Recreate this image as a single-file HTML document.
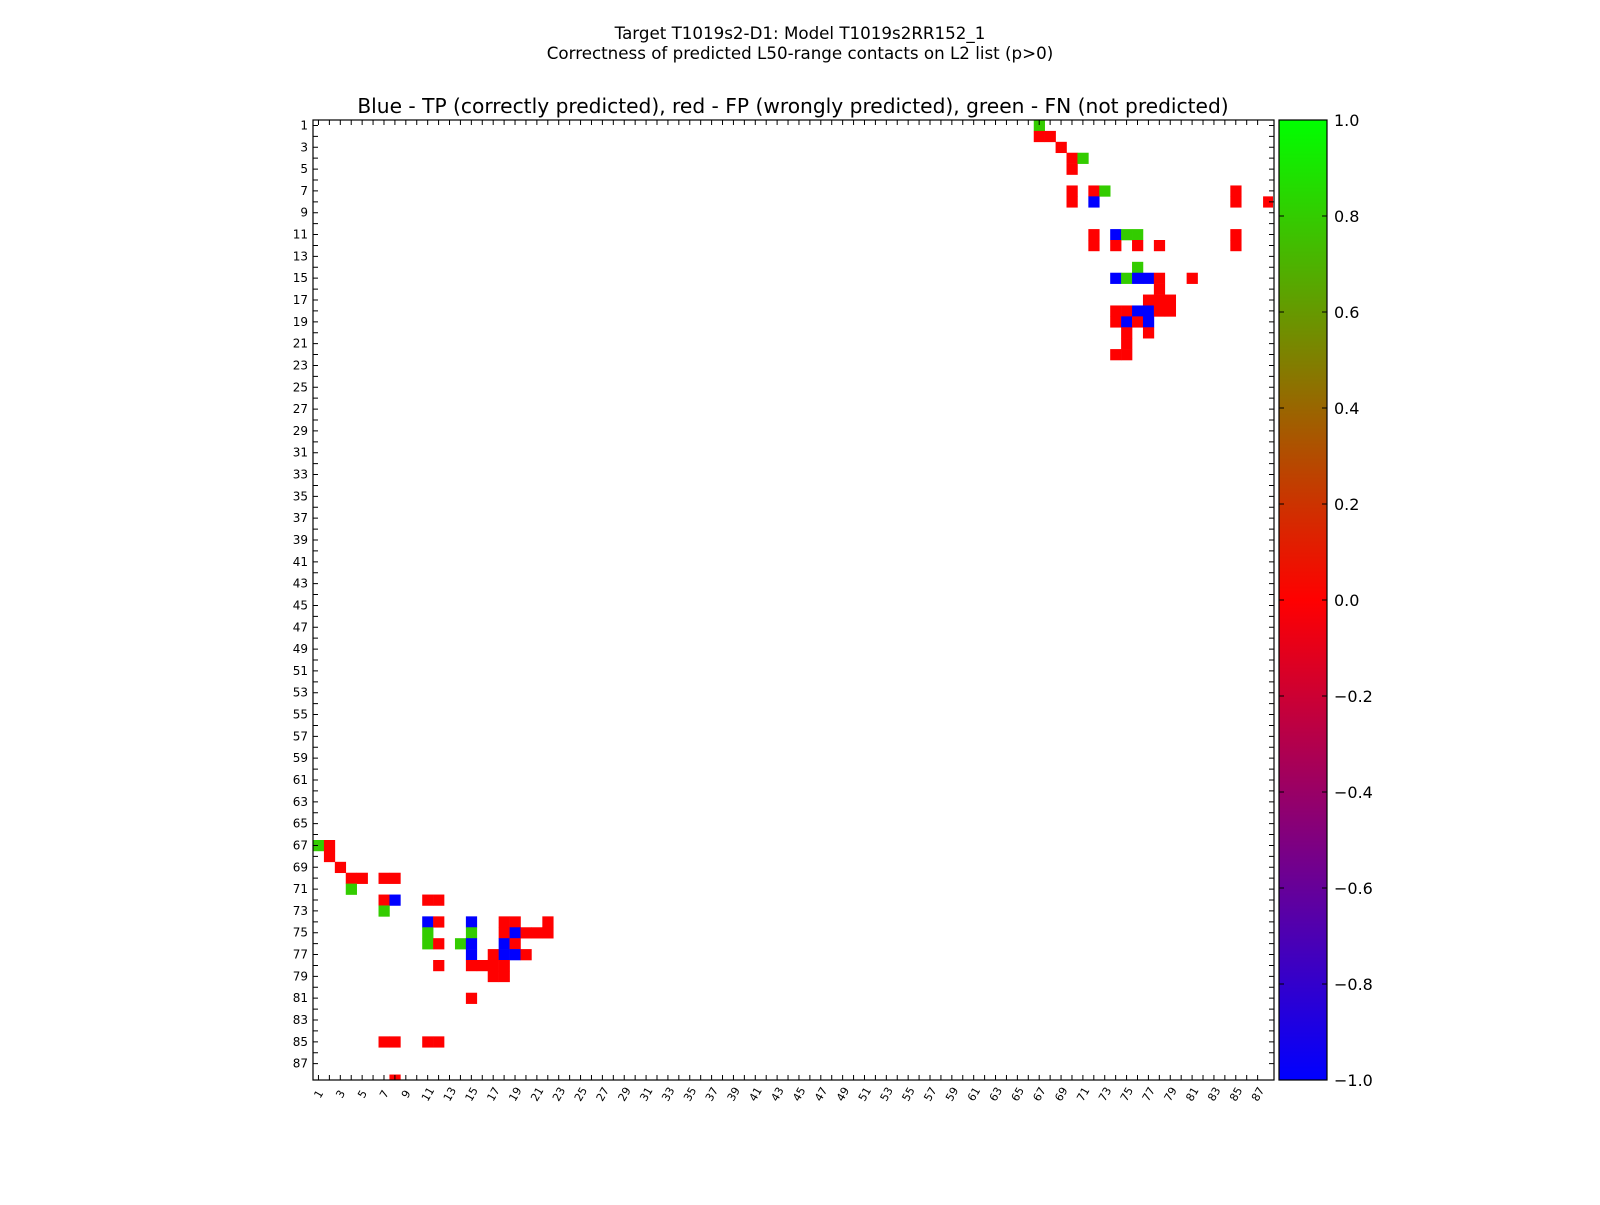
<!DOCTYPE html>
<html><head><meta charset="utf-8"><style>
body{margin:0;background:#fff;}
svg text{font-family:"DejaVu Sans","Liberation Sans",sans-serif;fill:#000;}
</style></head><body>
<svg id="chart" width="1600" height="1200" viewBox="0 0 1600 1200" xmlns="http://www.w3.org/2000/svg">
<rect width="1600" height="1200" fill="#fff"/>
<text x="800" y="39" font-size="16.7" text-anchor="middle">Target T1019s2-D1: Model T1019s2RR152_1</text>
<text x="800" y="59" font-size="16.7" text-anchor="middle">Correctness of predicted L50-range contacts on L2 list (p&gt;0)</text>
<text x="793" y="113" font-size="20.2" text-anchor="middle">Blue - TP (correctly predicted), red - FP (wrongly predicted), green - FN (not predicted)</text>
<defs>
<linearGradient id="cbgrad" x1="0" y1="0" x2="0" y2="1">
<stop offset="0" stop-color="#00ff00"/><stop offset="0.5" stop-color="#ff0000"/><stop offset="1" stop-color="#0000ff"/>
</linearGradient>
</defs>
<g id="cells"></g>
<g id="axes"></g>
<rect x="1279" y="120" width="48" height="960" fill="url(#cbgrad)" stroke="#000" stroke-width="1.2"/>
<g id="cbticks"></g>
</svg>
<script>
// cell data (lower triangle; mirrored to upper)
const rows = [67,67,68,69,70,70,70,70,71,72,72,72,72,73,74,74,74,74,74,74,75,75,75,75,75,75,75,76,76,76,76,76,76,77,77,77,77,77,78,78,78,78,78,79,79,81,85,85,85,85,88];
const cols = [1,2,2,3,4,5,7,8,4,7,8,11,12,7,11,12,15,18,19,22,11,15,18,19,20,21,22,11,12,14,15,18,19,15,17,18,19,20,12,15,16,17,18,17,18,15,7,8,11,12,8];
const vals = [0.8,0,0,0,0,0,0,0,0.8,0,-1,0,0,0.8,-1,0,-1,0,0,0,0.8,0.8,0,-1,0,0,0,0.8,0,0.8,-1,-1,0,-1,0,-1,-1,0,0,0,0,0,0,0,0,0,0,0,0,0,0];
const cbTicks = [1.0,0.8,0.6,0.4,0.2,0.0,-0.2,-0.4,-0.6,-0.8,-1.0];
const N = 88;
const L=313,T=120,W=961,H=960;
const NS='http://www.w3.org/2000/svg';
const sx = c => L + (c-1)*W/N;
const sy = r => T + (r-1)*H/N;
const cw = W/N, ch = H/N;
function color(v){
  let r,g,b;
  if(v>=0){r=Math.round(255*(1-v));g=Math.round(255*v);b=0;}
  else{r=Math.round(255*(1+v));g=0;b=Math.round(255*(-v));}
  return `rgb(${r},${g},${b})`;
}
const cells=document.getElementById('cells');
function addCell(r,c,v){
  const e=document.createElementNS(NS,'rect');
  
  
  e.setAttribute('x',sx(c));e.setAttribute('y',sy(r));
  e.setAttribute('width',c===N?cw-1:cw+0.3);
  e.setAttribute('height',r===N?ch/2:ch+0.3);
  if(r===N) e.setAttribute('y',sy(r)+ch/2);
  e.setAttribute('fill',color(v));
  cells.appendChild(e);
}
for(let i=0;i<rows.length;i++){addCell(rows[i],cols[i],vals[i]);addCell(cols[i],rows[i],vals[i]);}
const ax=document.getElementById('axes');
const frame=document.createElementNS(NS,'rect');


frame.setAttribute('x',L);frame.setAttribute('y',T);frame.setAttribute('width',W);frame.setAttribute('height',H);
frame.setAttribute('fill','none');frame.setAttribute('stroke','#000');frame.setAttribute('stroke-width','1.2');
ax.appendChild(frame);
let d='';
for(let i=1;i<=N-1;i++){
  const x=L+(i-0.5)*cw, y=T+(i-0.5)*ch;
  d+=`M${x},${T}v5M${x},${T+H}v-5M${L},${y}h5M${L+W},${y}h-5`;
}
const tk=document.createElementNS(NS,'path');


tk.setAttribute('d',d);tk.setAttribute('stroke','#000');tk.setAttribute('stroke-width','1');
ax.appendChild(tk);
for(let i=1;i<=N-1;i+=2){
  const x=L+(i-0.5)*cw, y=T+(i-0.5)*ch;
  const ty=document.createElementNS(NS,'text');
  
  
  ty.setAttribute('x',L-5);ty.setAttribute('y',y+4);ty.setAttribute('font-size','12');ty.setAttribute('text-anchor','end');
  ty.textContent=i;ax.appendChild(ty);
  const tx=document.createElementNS(NS,'text');
  
  
  const ly=T+H+14;
  tx.setAttribute('x',x);tx.setAttribute('y',ly+4);tx.setAttribute('font-size','11');tx.setAttribute('text-anchor','middle');
  tx.setAttribute('transform',`rotate(-60 ${x} ${ly})`);
  tx.textContent=i;ax.appendChild(tx);
}
const cb=document.getElementById('cbticks');
cbTicks.forEach(v=>{
  const y=T+(1-v)/2*H;
  const p=document.createElementNS(NS,'path');
  
  
  p.setAttribute('d',`M1279,${y}h5M1327,${y}h-5`);p.setAttribute('stroke','#000');
  cb.appendChild(p);
  const t=document.createElementNS(NS,'text');
  
  
  t.setAttribute('x',1334);t.setAttribute('y',y+6);t.setAttribute('font-size','16');
  t.textContent=(v<0?'\u2212':'')+Math.abs(v).toFixed(1);
  cb.appendChild(t);
});
</script>
</body></html>
